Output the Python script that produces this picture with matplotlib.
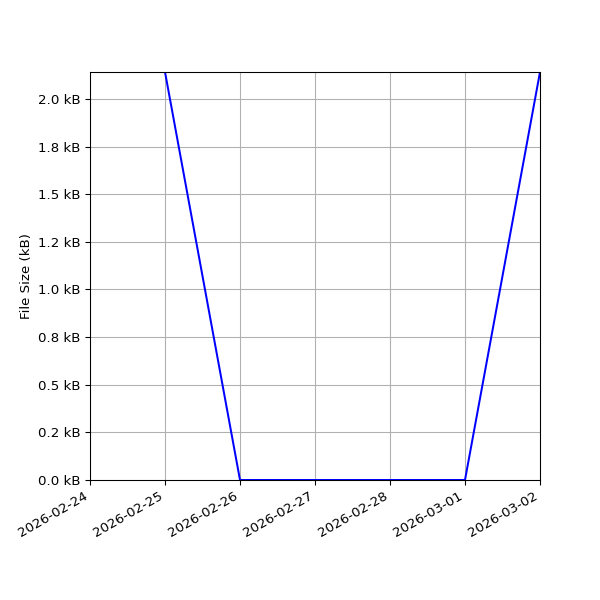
import matplotlib
matplotlib.use("Agg")
import matplotlib.pyplot as plt
import matplotlib.dates as mdates
from matplotlib.ticker import FuncFormatter, MultipleLocator
import datetime as dt

dates = ["2026-02-25", "2026-02-26", "2026-02-27", "2026-02-28", "2026-03-01", "2026-03-02"]
sizes_bytes = [2193, 0, 0, 0, 0, 2193]
xlim_dates = ["2026-02-24", "2026-03-02"]

x = [dt.datetime.strptime(d, "%Y-%m-%d") for d in dates]
fig, ax = plt.subplots(figsize=(6.25, 6.25), dpi=96)
fig.subplots_adjust(left=0.15, right=0.9, top=0.88, bottom=0.2)
ax.plot(x, sizes_bytes, color="blue")
ax.set_xlim([dt.datetime.strptime(d, "%Y-%m-%d") for d in xlim_dates])
ax.set_ylim(0, max(sizes_bytes))
ax.yaxis.set_major_locator(MultipleLocator(256))
ax.yaxis.set_major_formatter(FuncFormatter(lambda v, p: f"{v/1024:.1f} kB"))
ax.xaxis.set_major_locator(mdates.DayLocator())
ax.xaxis.set_major_formatter(mdates.DateFormatter("%Y-%m-%d"))
ax.set_ylabel("File Size (kB)")
ax.grid(True)
for lbl in ax.get_xticklabels():
    lbl.set_rotation(30)
    lbl.set_ha("right")
fig.savefig("out.png", dpi=96)
